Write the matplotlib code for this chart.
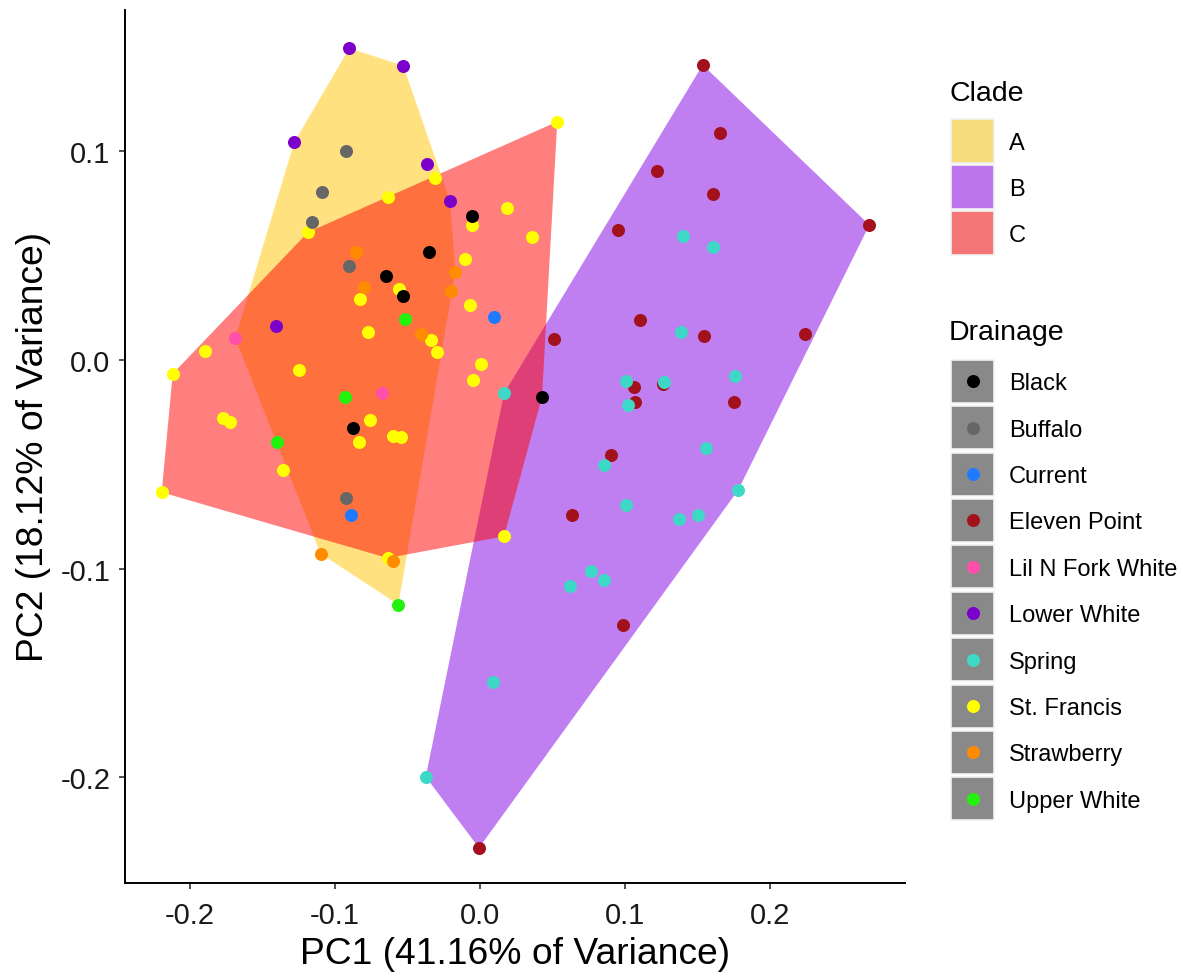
import numpy as np
import matplotlib
matplotlib.use("Agg")
from matplotlib import pyplot as plt
from matplotlib.patches import Rectangle

plt.rcParams['font.family'] = ['Liberation Sans', 'DejaVu Sans']

#################### DATA ####################
drainages = ['Black', 'Buffalo', 'Current', 'Eleven Point', 'Lil N Fork White',
             'Lower White', 'Spring', 'St. Francis', 'Strawberry', 'Upper White']
drain_colors = ['#000000', '#666666', '#1E7BFF', '#A3121C', '#FF4FA8',
                '#7B00CC', '#3ED8C6', '#FFFF00', '#FF8C00', '#22F20E']
drain_clade = ['C', 'A', 'C', 'B', 'A', 'A', 'B', 'C', 'A', 'A']

clades = ['A', 'B', 'C']
clade_fill = ['#FFC700', '#8300E3', '#FF0000']
clade_key = ['#F6DC7A', '#BE76EE', '#F47676']

black_pc1 = [-0.0057, -0.0354, -0.0648, -0.0533, -0.0874, 0.0428]
black_pc2 = [0.0689, 0.0519, 0.0401, 0.0308, -0.0327, -0.0176]

buffalo_pc1 = [-0.0924, -0.1090, -0.1159, -0.0903, -0.0922]
buffalo_pc2 = [0.1003, 0.0806, 0.0660, 0.0449, -0.0660]

current_pc1 = [0.0097, -0.0888]
current_pc2 = [0.0205, -0.0743]

eleven_pc1 = [0.1536, 0.1655, 0.1221, 0.1605, 0.2685, 0.0952, 0.1103, 0.1545, 0.2241,
              0.0508, 0.1064, 0.1264, 0.1752, 0.1069, 0.0906, 0.0637, 0.0984, -0.0007]
eleven_pc2 = [0.1414, 0.1089, 0.0904, 0.0795, 0.0647, 0.0624, 0.0192, 0.0116, 0.0125,
              0.0101, -0.0131, -0.0115, -0.0200, -0.0203, -0.0454, -0.0741, -0.1270, -0.2338]

lilnfork_pc1 = [-0.1688, -0.0678]
lilnfork_pc2 = [0.0104, -0.0160]

lowerwhite_pc1 = [-0.0901, -0.0529, -0.1281, -0.0368, -0.0207, -0.1407]
lowerwhite_pc2 = [0.1494, 0.1410, 0.1043, 0.0939, 0.0763, 0.0163]

spring_pc1 = [0.1402, 0.1605, 0.1384, 0.0166, 0.1007, 0.1271, 0.1759, 0.1019, 0.1557, 0.0855,
              0.1781, 0.1005, 0.1370, 0.1506, 0.0763, 0.0855, 0.0623, 0.0090, -0.0374]
spring_pc2 = [0.0596, 0.0540, 0.0136, -0.0160, -0.0099, -0.0104, -0.0078, -0.0216, -0.0423, -0.0502,
              -0.0623, -0.0693, -0.0762, -0.0743, -0.1010, -0.1053, -0.1081, -0.1541, -0.1997]

stfrancis_pc1 = [0.0533, -0.0308, -0.0634, -0.0057, -0.1186, 0.0188, 0.0359, -0.0101, -0.0557,
                 -0.0830, -0.0069, -0.0770, -0.0338, -0.0299, -0.1897, -0.2119, -0.1250, 0.0007,
                 -0.0050, -0.1770, -0.1724, -0.0759, -0.0832, -0.0602, -0.0547, -0.1357, -0.2195,
                 -0.0637, 0.0166]
stfrancis_pc2 = [0.1142, 0.0872, 0.0780, 0.0647, 0.0612, 0.0728, 0.0588, 0.0483, 0.0340,
                 0.0292, 0.0262, 0.0133, 0.0094, 0.0040, 0.0042, -0.0066, -0.0048, -0.0019,
                 -0.0097, -0.0279, -0.0299, -0.0287, -0.0394, -0.0363, -0.0370, -0.0527, -0.0634,
                 -0.0949, -0.0845]

strawberry_pc1 = [-0.0853, -0.0802, -0.0170, -0.0202, -0.0409, -0.1099, -0.0598]
strawberry_pc2 = [0.0519, 0.0351, 0.0423, 0.0332, 0.0125, -0.0928, -0.0963]

upperwhite_pc1 = [-0.0515, -0.0933, -0.1398, -0.0563]
upperwhite_pc2 = [0.0196, -0.0176, -0.0391, -0.1172]

pc1 = [black_pc1, buffalo_pc1, current_pc1, eleven_pc1, lilnfork_pc1,
       lowerwhite_pc1, spring_pc1, stfrancis_pc1, strawberry_pc1, upperwhite_pc1]
pc2 = [black_pc2, buffalo_pc2, current_pc2, eleven_pc2, lilnfork_pc2,
       lowerwhite_pc2, spring_pc2, stfrancis_pc2, strawberry_pc2, upperwhite_pc2]

x_ticks = [-0.2, -0.1, 0.0, 0.1, 0.2]
y_ticks = [-0.2, -0.1, 0.0, 0.1]
#################### END DATA ####################


def hull(pts: np.ndarray) -> np.ndarray:
    """Monotone chain convex hull, returns vertices in order"""
    pts = sorted(map(tuple, pts))
    cross = lambda o, a, b: (a[0] - o[0]) * (b[1] - o[1]) - (a[1] - o[1]) * (b[0] - o[0])
    lower, upper = [], []
    for p in pts:
        while len(lower) >= 2 and cross(lower[-2], lower[-1], p) <= 0:
            lower.pop()
        lower.append(p)
    for p in reversed(pts):
        while len(upper) >= 2 and cross(upper[-2], upper[-1], p) <= 0:
            upper.pop()
        upper.append(p)
    return np.array(lower[:-1] + upper[:-1])


W, H = 1183, 978
fig = plt.figure(figsize=(W / 100, H / 100), dpi=100)
ax = fig.add_axes([125 / W, 1 - 884 / H, 780 / W, 873 / H])

# clade hulls
for c, col in zip(clades, clade_fill):
    xs = np.concatenate([pc1[i] for i in range(len(drainages)) if drain_clade[i] == c])
    ys = np.concatenate([pc2[i] for i in range(len(drainages)) if drain_clade[i] == c])
    hv = hull(np.column_stack([xs, ys]))
    ax.fill(hv[:, 0], hv[:, 1], color=col, alpha=0.5, lw=0, zorder=1)

# points
draw_order = ['St. Francis', 'Strawberry', 'Upper White', 'Buffalo', 'Lil N Fork White',
              'Lower White', 'Current', 'Black', 'Eleven Point', 'Spring']
for name in draw_order:
    i = drainages.index(name)
    ax.scatter(pc1[i], pc2[i], s=88, color=drain_colors[i], lw=0, zorder=3)

ax.set_xlim(-0.2448, 0.2931)
ax.set_ylim(-0.2506, 0.1677)
ax.set_xticks(x_ticks)
ax.set_yticks(y_ticks)
ax.set_xticklabels([f'{v:.1f}' for v in x_ticks])
ax.set_yticklabels([f'{v:.1f}' for v in y_ticks])
for s in ['top', 'right']:
    ax.spines[s].set_visible(False)
for s in ['left', 'bottom']:
    ax.spines[s].set_linewidth(1.4)
ax.tick_params(length=4.5, width=1.2, color='#333333', labelsize=21,
               labelcolor='#1A1A1A')
ax.tick_params(axis='x', pad=8.5)
ax.tick_params(axis='y', pad=6)
ax.set_xlabel('PC1 (41.16% of Variance)', fontsize=26.8, labelpad=5)
ax.set_ylabel('PC2 (18.12% of Variance)', fontsize=26.8, labelpad=7)

# legends, drawn in pixel space
lax = fig.add_axes([0, 0, 1, 1])
lax.set_xlim(0, W)
lax.set_ylim(H, 0)
lax.axis('off')
lax.patch.set_visible(False)

lax.text(950, 94, 'Clade', fontsize=20.5, va='center', ha='left')
for k, (c, col) in enumerate(zip(clades, clade_key)):
    top = 119.5 + 46.3 * k
    lax.add_patch(Rectangle((951.5, top), 43, 44, facecolor=col, edgecolor='#F2F2F2', lw=1.2))
    lax.text(1009, top + 24, c, fontsize=17, va='center', ha='left')

lax.text(949, 333, 'Drainage', fontsize=20.5, va='center', ha='left')
for k, (d, col) in enumerate(zip(drainages, drain_colors)):
    top = 360.7 + 46.4 * k
    lax.add_patch(Rectangle((951.5, top), 43, 43, facecolor='#898989', edgecolor='#F2F2F2', lw=1.2))
    lax.scatter([973], [top + 21.5], s=88, color=col, lw=0)
    lax.text(1009, top + 23.5, d, fontsize=17, va='center', ha='left')

fig.savefig('out.png', dpi=100)
